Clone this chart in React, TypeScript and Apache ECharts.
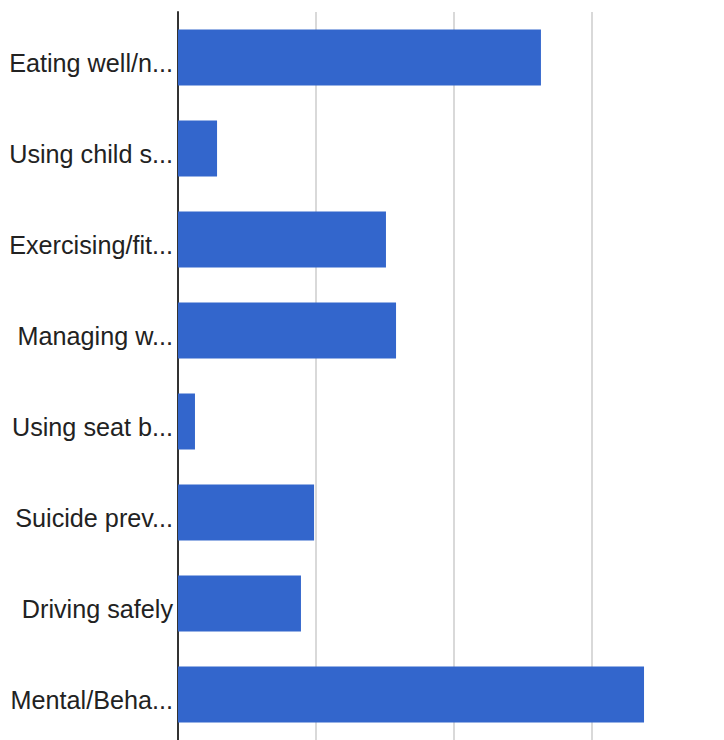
import React, { useEffect, useRef } from "react";
import * as echarts from "echarts";

const categories = [
  "Eating well/n...",
  "Using child s...",
  "Exercising/fit...",
  "Managing w...",
  "Using seat b...",
  "Suicide prev...",
  "Driving safely",
  "Mental/Beha...",
];
const values = [26.3, 2.83, 15.07, 15.8, 1.23, 9.86, 8.91, 33.77];
const axisMin = 0;
const axisMax = 40;
const axisInterval = 10;

export default function App() {
  const ref = useRef<HTMLDivElement>(null);
  useEffect(() => {
    if (!ref.current) return;
    const chart = echarts.init(ref.current, null, { renderer: "svg" });
    chart.setOption({
      animation: false,
      backgroundColor: "#ffffff",
      grid: { left: 178, top: 12, width: 552, height: 728, containLabel: false },
      xAxis: {
        type: "value",
        min: axisMin,
        max: axisMax,
        interval: axisInterval,
        axisLabel: { show: false },
        axisLine: { show: false },
        axisTick: { show: false },
        splitLine: { show: true, lineStyle: { color: "#cccccc", width: 1.5 } },
      },
      yAxis: {
        type: "category",
        data: categories,
        inverse: true,
        axisLine: { show: true, lineStyle: { color: "#333333", width: 2 } },
        axisTick: { show: false },
        axisLabel: {
          color: "#222222",
          fontFamily: "Liberation Sans, Arial, sans-serif",
          fontSize: 25.2,
          margin: 5,
          verticalAlign: "top",
          lineHeight: 10,
        },
      },
      series: [
        {
          type: "bar",
          data: values,
          barCategoryGap: "38.5%",
          itemStyle: { color: "#3366cc" },
          z: 1,
        },
      ],
    });
    return () => chart.dispose();
  }, []);
  return (
    <div
      style={{
        position: "fixed",
        left: 0,
        top: 0,
        width: 724,
        height: 740,
        overflow: "hidden",
        background: "#ffffff",
      }}
    >
      <div ref={ref} style={{ width: 740, height: 740 }} />
    </div>
  );
}
